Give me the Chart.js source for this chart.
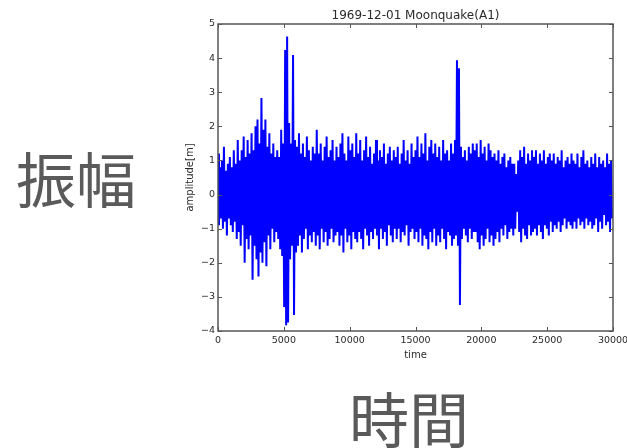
<!DOCTYPE html>
<html>
<head>
<meta charset="utf-8">
<script src="https://cdn.jsdelivr.net/npm/chart.js@4.4.1/dist/chart.umd.min.js"></script>
<style>
html,body{margin:0;padding:0;background:#fff;}
#wrap{position:relative;width:627px;height:448px;}
canvas{display:block;}
</style>
</head>
<body>
<div id="wrap"><canvas id="c" width="627" height="448"></canvas></div>
<script>
// ---- data ----
const chartTitle = "1969-12-01 Moonquake(A1)";
const xAxisLabel = "time";
const yAxisLabel = "amplitude[m]";
const bigYLabel = "振幅";
const bigXLabel = "時間";
const sampleStep = 150; // time units between envelope samples
const xTickValues = [0, 5000, 10000, 15000, 20000, 25000, 30000];
const yTickValues = [-4, -3, -2, -1, 0, 1, 2, 3, 4, 5];

// upper (positive) peaks, one per sample
const upperPeaks = [
  1.2, 0.8, 1.0, 1.4, 0.7, 0.9, 1.1, 0.8, 1.3, 0.9,
  1.6, 1.0, 1.3, 1.7, 1.1, 1.6, 1.2, 1.8, 1.3, 2.0,
  2.2, 1.5, 2.83, 1.9, 2.2, 1.4, 1.8, 1.2, 1.5, 1.1,
  1.3, 1.1, 1.9, 1.5, 4.24, 4.63, 2.1, 1.5, 4.09, 1.6,
  1.4, 1.8, 1.2, 1.5, 1.1, 1.7, 1.3, 1.0, 1.4, 1.2,
  1.9, 1.2, 1.5, 1.0, 1.4, 1.7, 1.1, 1.3, 1.6, 1.0,
  1.4, 1.1, 1.5, 1.8, 1.2, 1.0, 1.7, 1.3, 1.5, 1.1,
  1.8, 1.2, 1.6, 1.0, 1.3, 1.7, 1.1, 1.4, 0.9, 1.2,
  1.6, 1.0, 1.3, 1.1, 1.5, 0.9, 1.2, 1.4, 1.0, 1.3,
  1.1, 1.4, 0.9, 1.2, 1.6, 1.0, 1.3, 0.9, 1.5, 1.1,
  1.3, 1.7, 1.1, 1.5, 1.2, 1.8, 1.0, 1.4, 1.6, 1.2,
  1.5, 1.1, 1.4, 1.0, 1.6, 1.2, 1.3, 1.0, 1.5, 1.2,
  1.6, 3.94, 3.7, 1.4, 1.1, 1.3, 1.0, 1.4, 1.2, 1.5,
  1.3, 1.5, 1.1, 1.6, 1.2, 1.4, 1.0, 1.5, 1.3, 1.1,
  1.2, 1.0, 1.3, 0.9, 1.1, 1.2, 0.8, 1.0, 1.1, 0.9,
  0.9, 0.6, 1.0, 1.3, 1.1, 1.4, 0.9, 1.2, 1.0, 1.3,
  1.1, 1.3, 0.9, 1.2, 1.0, 1.3, 0.9, 1.1, 1.2, 1.0,
  1.2, 0.9, 1.1, 1.0, 1.3, 0.8, 1.0, 1.1, 0.9, 1.2,
  1.0, 0.9, 1.2, 0.8, 1.1, 1.3, 0.9, 1.0, 0.8, 1.1,
  0.9, 1.2, 0.8, 1.1, 0.9, 1.0, 0.8, 1.2, 0.9, 1.0
];
// lower (negative) peaks, one per sample, half a step later
const lowerPeaks = [
  -0.9, -0.7, -1.0, -0.8, -1.2, -0.7, -0.9, -1.1, -0.8, -1.3,
  -1.1, -1.5, -0.9, -2.0, -1.3, -1.6, -1.2, -2.5, -1.5, -1.9,
  -2.4, -1.7, -2.0, -1.4, -2.1, -1.2, -1.6, -1.0, -1.4, -1.1,
  -1.3, -1.6, -1.8, -3.3, -3.83, -3.75, -1.9, -1.5, -3.53, -1.7,
  -1.5, -1.2, -1.7, -1.3, -1.0, -1.6, -1.2, -1.4, -1.1, -1.5,
  -1.2, -1.6, -1.0, -1.4, -1.1, -1.5, -1.3, -1.0, -1.4, -1.2,
  -1.1, -1.5, -1.2, -1.7, -1.0, -1.4, -1.2, -1.6, -1.1, -1.3,
  -1.4, -1.1, -1.3, -1.6, -1.0, -1.2, -1.5, -1.1, -1.3, -1.0,
  -1.2, -1.6, -1.0, -1.3, -1.1, -1.5, -0.9, -1.2, -1.4, -1.0,
  -1.3, -1.0, -1.4, -1.1, -1.2, -0.9, -1.5, -1.1, -1.0, -1.3,
  -1.1, -1.4, -1.0, -1.5, -1.2, -1.3, -1.6, -1.1, -1.4, -1.0,
  -1.5, -1.2, -1.4, -1.0, -1.3, -1.6, -1.1, -1.2, -1.5, -1.3,
  -1.2, -1.5, -3.24, -1.3, -1.0, -1.2, -1.4, -1.0, -1.3, -1.1,
  -1.1, -1.4, -1.6, -1.2, -1.5, -1.3, -1.0, -1.4, -1.2, -1.5,
  -1.3, -1.1, -1.4, -1.0, -1.2, -0.9, -1.3, -1.1, -1.0, -1.2,
  -1.0, -0.5, -1.1, -1.4, -1.0, -1.2, -1.3, -0.9, -1.2, -1.1,
  -1.0, -1.2, -0.9, -1.1, -1.3, -0.9, -1.0, -1.2, -0.8, -1.1,
  -0.9, -1.0, -0.8, -1.1, -0.9, -0.7, -1.0, -0.8, -0.9, -1.0,
  -0.8, -1.0, -0.7, -0.9, -0.8, -1.0, -0.7, -0.9, -0.8, -1.0,
  -0.9, -0.7, -1.1, -0.8, -1.0, -0.6, -0.9, -0.8, -1.1, -0.7
];

// zig-zag trace built from the envelope arrays
const trace = [];
for (let i = 0; i < upperPeaks.length; i++) {
  trace.push({x: i * sampleStep, y: upperPeaks[i]});
  trace.push({x: i * sampleStep + sampleStep / 2, y: lowerPeaks[i]});
}

const FRAME = '#555555';
const TEXT = '#2a2a2a';

const decor = {
  id: 'decor',
  afterDraw(chart) {
    const ctx = chart.ctx;
    const a = chart.chartArea;
    const xs = chart.scales.x, ys = chart.scales.y;
    ctx.save();
    // frame
    ctx.strokeStyle = FRAME;
    ctx.lineWidth = 1.5;
    ctx.strokeRect(a.left, a.top, a.right - a.left, a.bottom - a.top);
    // inward ticks
    ctx.lineWidth = 1;
    ctx.beginPath();
    const tl = 4;
    xTickValues.forEach(v => {
      const px = Math.round(xs.getPixelForValue(v)) + 0.5;
      ctx.moveTo(px, a.bottom); ctx.lineTo(px, a.bottom - tl);
      ctx.moveTo(px, a.top); ctx.lineTo(px, a.top + tl);
    });
    yTickValues.forEach(v => {
      const py = Math.round(ys.getPixelForValue(v)) + 0.5;
      ctx.moveTo(a.left, py); ctx.lineTo(a.left + tl, py);
      ctx.moveTo(a.right, py); ctx.lineTo(a.right - tl, py);
    });
    ctx.stroke();
    // title
    ctx.fillStyle = TEXT;
    ctx.textAlign = 'center';
    ctx.textBaseline = 'alphabetic';
    ctx.font = '12px "DejaVu Sans"';
    ctx.fillText(chartTitle, (a.left + a.right) / 2, a.top - 5);
    // axis labels
    ctx.font = '10px "DejaVu Sans"';
    ctx.textBaseline = 'middle';
    ctx.fillText(xAxisLabel, (a.left + a.right) / 2, a.bottom + 24);
    ctx.save();
    ctx.translate(a.left - 28, (a.top + a.bottom) / 2);
    ctx.rotate(-Math.PI / 2);
    ctx.fillText(yAxisLabel, 0, 0);
    ctx.restore();
    // big Japanese labels
    ctx.fillStyle = '#5a5a5a';
    ctx.font = '400 60px "Noto Sans CJK JP"';
    ctx.textBaseline = 'middle';
    ctx.fillText(bigYLabel, 76, 180);
    ctx.fillText(bigXLabel, 409, 420);
    ctx.restore();
  }
};

new Chart(document.getElementById('c'), {
  type: 'line',
  data: {
    datasets: [{
      data: trace,
      borderColor: '#0000ff',
      borderWidth: 2,
      pointRadius: 0,
      tension: 0,
      fill: false
    }]
  },
  options: {
    responsive: false,
    animation: false,
    events: [],
    layout: {autoPadding: false, padding: {left: 0, right: 14, top: 24, bottom: 0}},
    plugins: {legend: {display: false}, tooltip: {enabled: false}, title: {display: false}},
    scales: {
      x: {
        type: 'linear', min: 0, max: 30000,
        grid: {display: false, drawTicks: false},
        border: {display: false},
        afterFit(s) { s.height = 117; s.paddingLeft = 0; s.paddingRight = 0; },
        afterBuildTicks(s) { s.ticks = xTickValues.map(v => ({value: v})); },
        ticks: {
          padding: 4, maxRotation: 0, autoSkip: false,
          color: TEXT, font: {family: 'DejaVu Sans', size: 9.5},
          callback: v => String(v)
        }
      },
      y: {
        type: 'linear', min: -4, max: 5,
        grid: {display: false, drawTicks: false},
        border: {display: false},
        afterFit(s) { s.width = 218; s.paddingTop = 0; s.paddingBottom = 0; },
        afterBuildTicks(s) { s.ticks = yTickValues.map(v => ({value: v})); },
        ticks: {
          padding: 3, autoSkip: false,
          color: TEXT, font: {family: 'DejaVu Sans', size: 9.5},
          callback: v => String(v).replace('-', '\u2212')
        }
      }
    }
  },
  plugins: [decor]
});
</script>
</body>
</html>
